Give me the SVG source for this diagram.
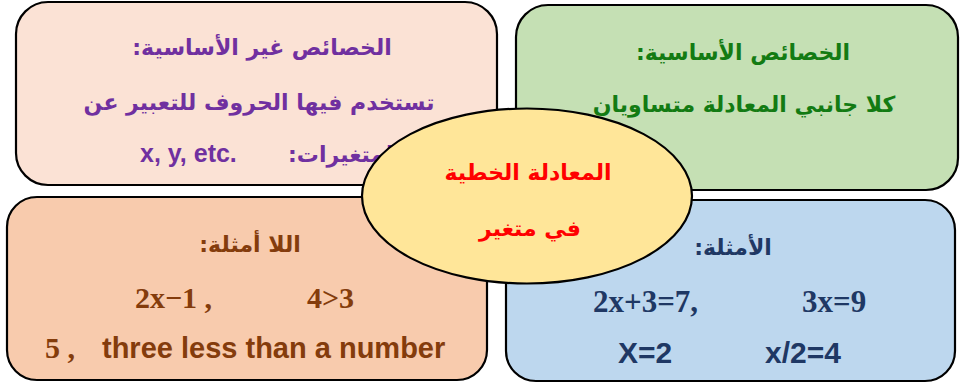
<svg xmlns="http://www.w3.org/2000/svg" width="960" height="383" viewBox="0 0 960 383">
<style>
.box{stroke:#000;stroke-width:2.2}
.ar{font-family:"DejaVu Sans","Liberation Sans",sans-serif;font-weight:bold;font-size:22px;text-anchor:middle}
.en{font-family:"Liberation Sans",Arial,sans-serif;font-weight:bold}
.tm{font-family:"Liberation Serif","Times New Roman",serif;font-weight:bold}
</style>
<rect width="960" height="383" fill="#fff"/>
<g id="connectors"/>
<g id="non-essential">
<rect class="box" x="16" y="2" width="481" height="183" rx="32" fill="#FBE2D5"/>
<text class="ar" x="262" y="55" fill="#7030A0">:الخصائص غير الأساسية</text>
<text class="ar" x="259" y="110" fill="#7030A0">تستخدم فيها الحروف للتعبير عن</text>
<text class="en" x="140" y="162" font-size="25" fill="#7030A0">x, y, etc.</text>
<text class="ar" x="288" y="162" fill="#7030A0" style="text-anchor:start">:المتغيرات</text>
</g>
<g id="essential">
<rect class="box" x="516" y="5" width="442" height="185" rx="32" fill="#C5E0B4"/>
<text class="ar" x="743" y="60" fill="#137B13">:الخصائص الأساسية</text>
<text class="ar" x="744" y="112" fill="#137B13">كلا جانبي المعادلة متساويان</text>
</g>
<g id="non-examples">
<rect class="box" x="7" y="197" width="480" height="183" rx="30" fill="#F8CBAD"/>
<text class="ar" x="250" y="252" fill="#843C0C">:اللا أمثلة</text>
<text class="tm" x="135" y="308" font-size="30" fill="#843C0C">2x−1 ,</text>
<text class="tm" x="307" y="308" font-size="30" fill="#843C0C">4&gt;3</text>
<text class="tm" x="45" y="358" font-size="30" fill="#843C0C">5 ,</text>
<text class="en" x="102" y="358" font-size="29" fill="#843C0C">three less than a number</text>
</g>
<g id="examples">
<rect class="box" x="506" y="200" width="449" height="181" rx="30" fill="#BDD7EE"/>
<text class="ar" x="733" y="255" fill="#1F3864">:الأمثلة</text>
<text class="tm" x="593" y="312" font-size="31" fill="#1F3864">2x+3=7,</text>
<text class="tm" x="802" y="312" font-size="31" fill="#1F3864">3x=9</text>
<text class="en" x="618" y="363" font-size="30" fill="#1F3864">X=2</text>
<text class="en" x="765" y="363" font-size="30" fill="#1F3864">x/2=4</text>
</g>
<g id="center">
<ellipse cx="527" cy="196" rx="165" ry="87.5" fill="#FFE699" stroke="#000" stroke-width="2.2"/>
<text class="ar" x="528" y="180" fill="#FF0000">المعادلة الخطية</text>
<text class="ar" x="530" y="236" fill="#FF0000">في متغير</text>
</g>
</svg>
